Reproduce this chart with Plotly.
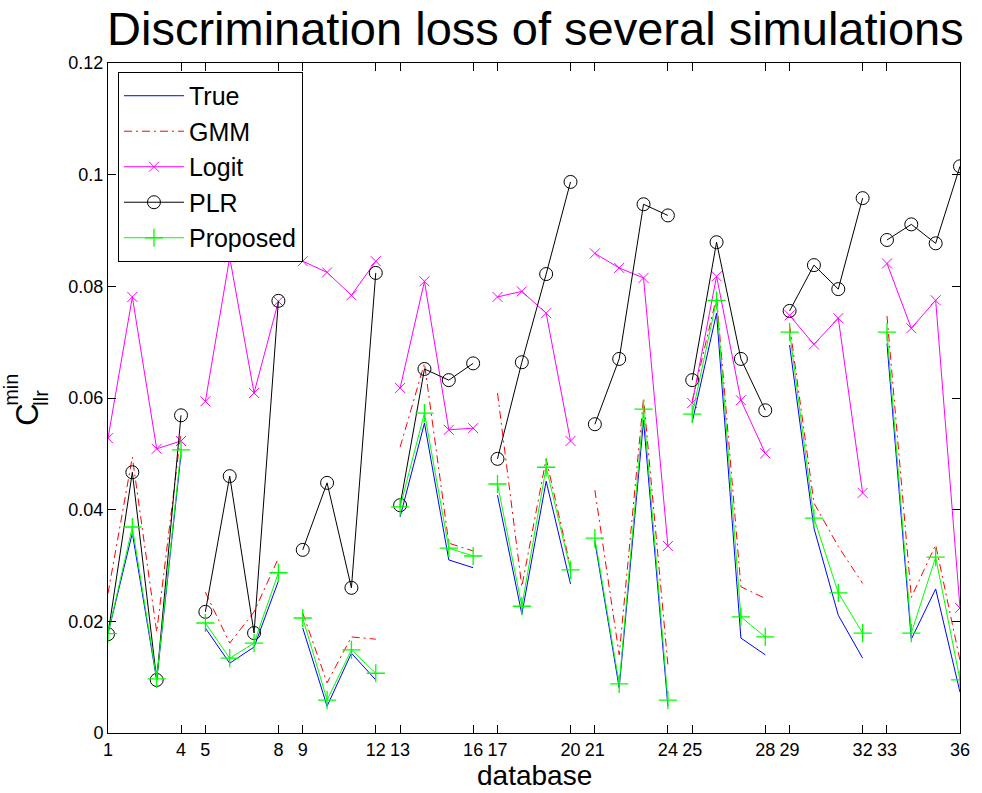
import plotly.graph_objects as go

# Database index and grouping (4 databases per simulation block)
database = list(range(1, 37))
group_size = 4

tick_vals = [1, 4, 5, 8, 9, 12, 13, 16, 17, 20, 21, 24, 25, 28, 29, 32, 33, 36]
y_ticks = [0, 0.02, 0.04, 0.06, 0.08, 0.1, 0.12]
y_tick_text = ["0", "0.02", "0.04", "0.06", "0.08", "0.1", "0.12"]

true_vals = [0.0178, 0.0358, 0.0095, 0.0500, 0.0188, 0.0125, 0.0154, 0.0272,
             0.0188, 0.0048, 0.0143, 0.0095, 0.0387, 0.0555, 0.0310, 0.0296,
             0.0426, 0.0213, 0.0451, 0.0267, 0.0343, 0.0081, 0.0560, 0.0048,
             0.0557, 0.0752, 0.0170, 0.0140, 0.0695, 0.0367, 0.0211, 0.0134,
             0.0698, 0.0168, 0.0258, 0.0073]
gmm_vals = [0.0250, 0.0494, 0.0181, 0.0539, 0.0252, 0.0161, 0.0217, 0.0313,
            0.0215, 0.0090, 0.0172, 0.0168, 0.0512, 0.0662, 0.0340, 0.0326,
            0.0609, 0.0262, 0.0491, 0.0297, 0.0435, 0.0140, 0.0600, 0.0122,
            0.0595, 0.0781, 0.0262, 0.0241, 0.0730, 0.0412, 0.0334, 0.0268,
            0.0747, 0.0243, 0.0337, 0.0130]
logit_vals = [0.0528, 0.0781, 0.0509, 0.0523, 0.0594, 0.0852, 0.0609, 0.0773,
              0.0845, 0.0825, 0.0784, 0.0845, 0.0618, 0.0809, 0.0543, 0.0546,
              0.0781, 0.0791, 0.0752, 0.0523, 0.0859, 0.0833, 0.0815, 0.0335,
              0.0591, 0.0818, 0.0596, 0.0501, 0.0748, 0.0696, 0.0743, 0.0430,
              0.0841, 0.0725, 0.0775, 0.0224]
plr_vals = [0.0177, 0.0467, 0.0095, 0.0569, 0.0217, 0.0460, 0.0179, 0.0774,
            0.0328, 0.0448, 0.0260, 0.0824, 0.0408, 0.0652, 0.0632, 0.0662,
            0.0491, 0.0664, 0.0822, 0.0987, 0.0553, 0.0670, 0.0947, 0.0927,
            0.0632, 0.0879, 0.0670, 0.0578, 0.0756, 0.0838, 0.0795, 0.0958,
            0.0883, 0.0911, 0.0877, 0.1015]
proposed_vals = [0.0178, 0.0369, 0.0097, 0.0507, 0.0197, 0.0134, 0.0161, 0.0287,
                 0.0206, 0.0059, 0.0149, 0.0107, 0.0405, 0.0573, 0.0331, 0.0317,
                 0.0446, 0.0227, 0.0476, 0.0292, 0.0349, 0.0088, 0.0580, 0.0059,
                 0.0571, 0.0775, 0.0208, 0.0172, 0.0718, 0.0385, 0.0251, 0.0179,
                 0.0718, 0.0179, 0.0315, 0.0095]


def blocks(xs, ys):
    """Insert gaps so each block of databases is drawn as its own segment."""
    bx, by = [], []
    for i, (x, y) in enumerate(zip(xs, ys)):
        if i and i % group_size == 0:
            bx.append(None)
            by.append(None)
        bx.append(x)
        by.append(y)
    return bx, by


series = [
    ("True", true_vals, dict(color="#0000FF", width=1), None),
    ("GMM", gmm_vals, dict(color="#FF0000", width=1, dash="8px,4px,2px,4px"), None),
    ("Logit", logit_vals, dict(color="#FF00FF", width=1),
     dict(symbol="x-thin-open", size=10, line=dict(color="#FF00FF", width=1))),
    ("PLR", plr_vals, dict(color="#000000", width=1),
     dict(symbol="circle-open", size=13, color="#000000", line=dict(color="#000000", width=1))),
    ("Proposed", proposed_vals, dict(color="#00FF00", width=1),
     dict(symbol="cross-thin-open", size=13, line=dict(color="#00FF00", width=1.3))),
]

fig = go.Figure()
for name, vals, line, marker in series:
    bx, by = blocks(database, vals)
    fig.add_trace(go.Scatter(
        x=bx, y=by, name=name,
        mode="lines+markers" if marker else "lines",
        line=line, marker=marker, connectgaps=False,
    ))

font_family = "Liberation Sans, Arial, Helvetica, sans-serif"

fig.update_layout(
    width=982, height=793,
    margin=dict(l=108, r=19, t=63, b=60),
    paper_bgcolor="white", plot_bgcolor="white",
    font=dict(family=font_family, color="black", size=18),
    showlegend=True,
    legend=dict(
        x=0.0117, y=0.9866, xanchor="left", yanchor="top",
        bordercolor="black", borderwidth=1, bgcolor="white",
        font=dict(size=25, family=font_family),
        tracegroupgap=0, itemwidth=60,
    ),
    xaxis=dict(
        range=[1, 36], tickvals=tick_vals, ticktext=[str(t) for t in tick_vals],
        ticks="inside", ticklen=8, tickcolor="black", tickwidth=1,
        showline=True, linecolor="black", linewidth=1, mirror="allticks",
        showgrid=False, zeroline=False, tickfont=dict(size=18),
    ),
    yaxis=dict(
        range=[0, 0.12], tickvals=y_ticks, ticktext=y_tick_text,
        ticks="inside", ticklen=8, tickcolor="black", tickwidth=1,
        showline=True, linecolor="black", linewidth=1, mirror="allticks",
        showgrid=False, zeroline=False, tickfont=dict(size=18),
    ),
    annotations=[
        dict(text="Discrimination loss of several simulations", xref="paper", yref="paper",
             x=0.5018, y=1.052, xanchor="center", yanchor="middle", showarrow=False,
             font=dict(size=47)),
        dict(text="database", xref="paper", yref="paper",
             x=0.5, y=-0.063, xanchor="center", yanchor="middle", showarrow=False,
             font=dict(size=28)),
        dict(text="C", xref="paper", yref="paper", textangle=-90,
             x=-0.094, y=0.475, xanchor="center", yanchor="middle", showarrow=False,
             font=dict(size=31)),
        dict(text="min", xref="paper", yref="paper", textangle=-90,
             x=-0.114, y=0.512, xanchor="center", yanchor="middle", showarrow=False,
             font=dict(size=20)),
        dict(text="llr", xref="paper", yref="paper", textangle=-90,
             x=-0.079, y=0.5, xanchor="center", yanchor="middle", showarrow=False,
             font=dict(size=20)),
    ],
)

fig.write_html("out.html")
